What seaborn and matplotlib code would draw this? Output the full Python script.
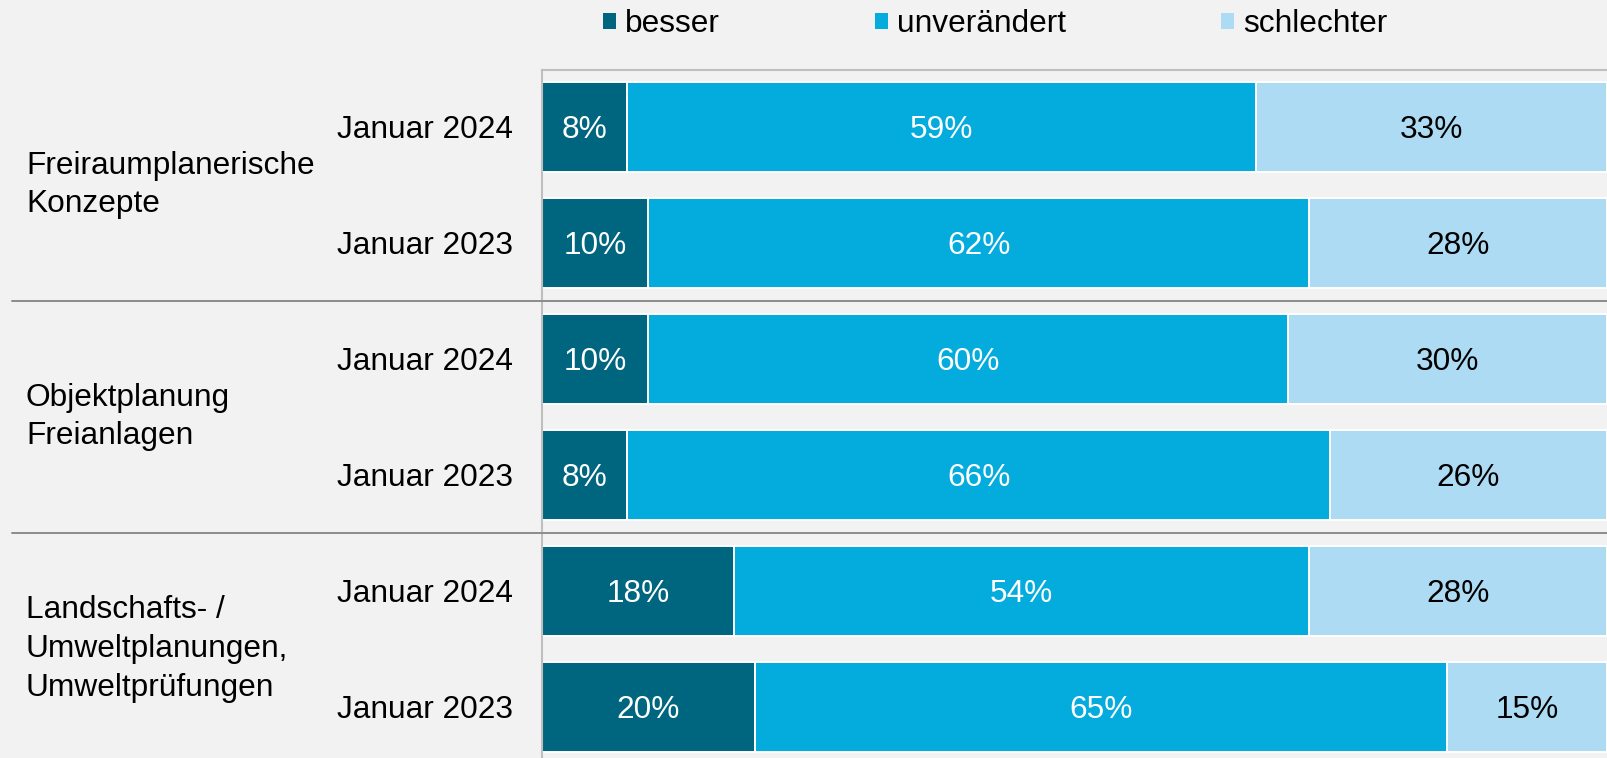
import seaborn as sns
import matplotlib.pyplot as plt
import matplotlib.transforms as mtransforms
import pandas as pd
from matplotlib.lines import Line2D
from matplotlib.patches import Patch

# Data
groups = ["Freiraumplanerische\nKonzepte", "Objektplanung\nFreianlagen",
          "Landschafts- /\nUmweltplanungen,\nUmweltprüfungen"]
years = ["Januar 2024", "Januar 2023"]
series_names = ["besser", "unverändert", "schlechter"]
besser = [8, 10, 10, 8, 18, 20]
unveraendert = [59, 62, 60, 66, 54, 65]
schlechter = [33, 28, 30, 26, 28, 15]

colors = ["#00657f", "#03acdd", "#addbf4"]
text_colors = ["white", "white", "black"]
bg = "#f2f2f2"

# one row per group/year
rows = [f"{g}_{y}" for g in range(len(groups)) for y in years]
df = pd.DataFrame({"row": rows, "besser": besser,
                   "unverändert": unveraendert, "schlechter": schlechter})
# cumulative ends for stacking
df["c1"] = df["besser"]
df["c2"] = df["c1"] + df["unverändert"]
df["c3"] = df["c2"] + df["schlechter"]

sns.set_style("white", {"axes.facecolor": bg, "figure.facecolor": bg,
                        "text.color": "black", "ytick.color": "black"})
plt.rcParams['font.family'] = ['Liberation Sans', 'DejaVu Sans']
fs = 22.8

fig = plt.figure(figsize=(16.08, 7.58), dpi=100)
ax = fig.add_axes([542 / 1608, 0, 1065 / 1608, 1 - 70 / 758])

# draw from the longest cumulative bar to the shortest
for col, c in zip(["c3", "c2", "c1"], colors[::-1]):
    sns.barplot(data=df, x=col, y="row", orient="h", color=c, saturation=1,
                width=0.78, edgecolor="white", linewidth=1.4, errorbar=None, ax=ax)

# percent labels in the middle of each segment
for i, r in df.iterrows():
    starts = [0, r["c1"], r["c2"]]
    vals = [r["besser"], r["unverändert"], r["schlechter"]]
    for s, v, tc in zip(starts, vals, text_colors):
        ax.text(s + v / 2, i, f"{v}%", ha="center", va="center_baseline",
                color=tc, fontsize=fs)

ax.set_xlim(0, 100)
ax.set_ylim(5.44, -0.491)
ax.set_xticks([])
ax.set_yticks(range(len(rows)))
ax.set_yticklabels(years * len(groups), fontsize=fs, color="black")
ax.tick_params(axis="y", length=0, pad=21)
ax.set_xlabel("")
ax.set_ylabel("")
for s in ["right", "bottom"]:
    ax.spines[s].set_visible(False)
for s in ["top", "left"]:
    ax.spines[s].set_color("#bfbfbf")
    ax.spines[s].set_linewidth(1.5)

# group labels and separators
blend = mtransforms.blended_transform_factory(fig.transFigure, ax.transData)
for gi, g in enumerate(groups):
    ax.text(26 / 1608, gi * 2 + 0.5, g, transform=blend, ha="left", va="center",
            fontsize=fs, linespacing=1.38, color="black")
for yy in [1.5, 3.5]:
    fig.add_artist(Line2D([12 / 1608, 1], [yy, yy], transform=blend,
                          color="#8c8c8c", lw=1.4, clip_on=False))

# legend
handles = [Patch(facecolor=c, edgecolor="none", label=n) for c, n in zip(colors, series_names)]
fig.legend(handles=handles, loc="center", bbox_to_anchor=(0.619, 0.968), ncol=3,
           frameon=False, fontsize=fs, handlelength=0.4, handleheight=0.4,
           handletextpad=0.3, columnspacing=4.9, borderaxespad=0)

fig.savefig("out.png", dpi=100, facecolor=bg)
